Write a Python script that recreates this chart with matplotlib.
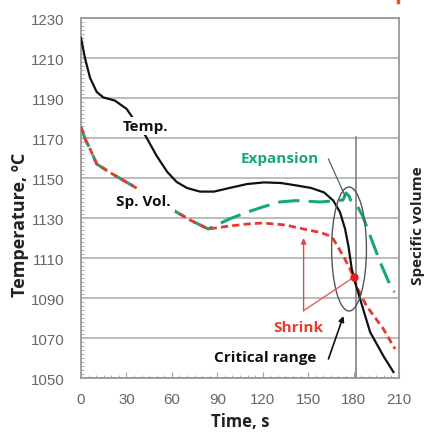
import matplotlib
matplotlib.use("Agg")
import matplotlib.pyplot as plt
from matplotlib.patches import Ellipse
from matplotlib.ticker import MultipleLocator
from matplotlib.lines import Line2D

# ---- data ----
temp_t = [0, 2.6, 6, 10.4, 14.7, 22.4, 30.2, 36, 42.3, 50, 57, 63.2, 70, 78.6, 87.8, 98,
          109.8, 120.9, 132, 142.9, 152, 160.5, 166.6, 171, 174.4, 176.6, 178.8, 181,
          184.3, 190.9, 199.7, 206.3]
temp_v = [1220, 1210, 1200, 1193, 1190.3, 1188.7, 1184.5, 1178, 1171.5, 1161, 1153, 1148,
          1145, 1143.2, 1143.2, 1145, 1147, 1147.8, 1147.5, 1146.2, 1145, 1142.8, 1138.7,
          1133, 1124.5, 1116, 1104.5, 1098, 1089.5, 1073, 1061, 1053]

shrink_t = [0, 3, 6, 10.4, 19, 34.4, 45, 55, 63, 72, 84, 98, 110, 120, 135, 150, 158,
            164.5, 166.6, 173.2, 177.7, 180, 182.5, 188.6, 199.7, 207.4]
shrink_v = [1175.5, 1169, 1164.5, 1157, 1152.8, 1146, 1141, 1136.5, 1133, 1129, 1124.5,
            1126, 1127, 1127.5, 1126.5, 1124, 1122.8, 1121, 1119.5, 1111, 1104.5, 1100.3,
            1095, 1086, 1074.5, 1064.5]

expand_t = [0, 3, 6, 10.4, 19, 34.4, 45, 55, 63, 72, 84, 98, 110, 120, 131, 142, 158,
            169, 173, 175, 177, 178, 181, 186, 191, 197.5, 205.2, 207]
expand_v = [1175.5, 1169, 1164.5, 1157, 1152.8, 1146, 1141, 1136.5, 1133, 1129, 1124.5,
            1129.5, 1133, 1135.5, 1138, 1138.7, 1138, 1138.7, 1139, 1142.5, 1141, 1139,
            1138, 1131, 1121, 1108, 1094.5, 1093]

x_ticks = [0, 30, 60, 90, 120, 150, 180, 210]
y_ticks = [1050, 1070, 1090, 1110, 1130, 1150, 1170, 1190, 1210, 1230]

critical_t = 181.5
critical_point = (180, 1100.3)

BLACK = "#111111"
RED = "#e8392f"
GREEN = "#17a878"
GRAY = "#a0a0a0"
TICKC = "#666666"
BOLD = ["Open Sans", "DejaVu Sans"]

fig = plt.figure(figsize=(4.28, 4.39), dpi=100)
ax = fig.add_axes([81/428, 1-379/439, 318/428, 360/439])

ax.set_xlim(0, 210)
ax.set_ylim(1050, 1230)
ax.set_xticks(x_ticks)
ax.set_yticks(y_ticks)
ax.xaxis.set_minor_locator(MultipleLocator(5))
ax.yaxis.set_minor_locator(MultipleLocator(2))
ax.tick_params(which="both", direction="in", colors=GRAY, labelcolor=TICKC,
               labelsize=10.8, labelfontfamily="Liberation Sans")
ax.tick_params(axis="y", which="major", length=0, pad=12)
ax.tick_params(axis="x", which="major", length=4, pad=10)
ax.tick_params(which="minor", length=2.5)
for s in ax.spines.values():
    s.set_color("#999999")
    s.set_linewidth(1.3)
ax.grid(axis="y", color="#b0b0b0", lw=1.2)
ax.set_axisbelow(True)

# critical vertical line
ax.plot([critical_t, critical_t], [1050, 1170.5], color="#777777", lw=1.1, zorder=2)

# curves
ax.plot(expand_t, expand_v, color=GREEN, lw=2.2, dashes=(7, 3), zorder=3)
ax.plot(shrink_t, shrink_v, color=RED, lw=2.0, dashes=(2.6, 1.5), zorder=4)
ax.plot(temp_t, temp_v, color=BLACK, lw=1.6, zorder=5)

# ellipse
ax.add_patch(Ellipse((177, 1114.5), 23, 62, fill=False, ec="#555555", lw=1.0, zorder=6))

# labels on chart
FS = 11
ax.text(42.8, 1176, "Temp.", ha="center", va="center", fontsize=FS, fontweight="bold",
        family=BOLD, color="#111111", zorder=7,
        bbox=dict(boxstyle="square,pad=0.15", fc="white", ec="none"))
ax.text(41.2, 1138.6, "Sp. Vol.", ha="center", va="center", fontsize=FS, fontweight="bold",
        family=BOLD, color="#111111", zorder=7,
        bbox=dict(boxstyle="square,pad=0.3", fc="white", ec="none"))
ax.text(131.3, 1160, "Expansion", ha="center", va="center", fontsize=FS, fontweight="bold",
        family=BOLD, color=GREEN, zorder=7)
ax.plot([163.4, 174.4], [1159.5, 1141], color="#4a6a60", lw=0.9, zorder=7)

ax.text(143.4, 1075.3, "Shrink", ha="center", va="center", fontsize=FS, fontweight="bold",
        family=BOLD, color=RED, zorder=7)
ax.annotate("", xy=(147, 1120), xytext=(147, 1083.6),
            arrowprops=dict(arrowstyle="-|>", color="#e0464a", lw=1.0,
                            mutation_scale=8, shrinkA=0, shrinkB=0), zorder=7)
ax.plot([146.8, critical_point[0]], [1083.6, critical_point[1]], color="#e06060", lw=1.0, zorder=7)
ax.plot([critical_point[0]], [critical_point[1]], "o", color="#e02020", ms=5, zorder=8)

ax.text(121.9, 1060.5, "Critical range", ha="center", va="center", fontsize=FS,
        fontweight="bold", family=BOLD, color="#111111", zorder=7)
ax.annotate("", xy=(173.3, 1081), xytext=(163.4, 1059.5),
            arrowprops=dict(arrowstyle="-|>", color="#111111", lw=1.2,
                            mutation_scale=8, shrinkA=0, shrinkB=0), zorder=7)

# axis labels
fig.text(20/428, 1-225/439, "Temperature, ºC", rotation=90, ha="center", va="center",
         fontsize=13, fontweight="bold", family=BOLD, color="#222222")
fig.text(418/428, 1-226/439, "Specific volume", rotation=90, ha="center", va="center",
         fontsize=11, fontweight="bold", family=BOLD, color="#222222")
fig.text(240/428, 1-422/439, "Time, s", ha="center", va="center",
         fontsize=12, fontweight="bold", family=BOLD, color="#222222")

# small red mark at top right (cropped element)
fig.add_artist(Line2D([398/428, 398/428], [1.0, 1-3/439], color="#e8502f", lw=2.5))

fig.savefig("out.png", dpi=100)
